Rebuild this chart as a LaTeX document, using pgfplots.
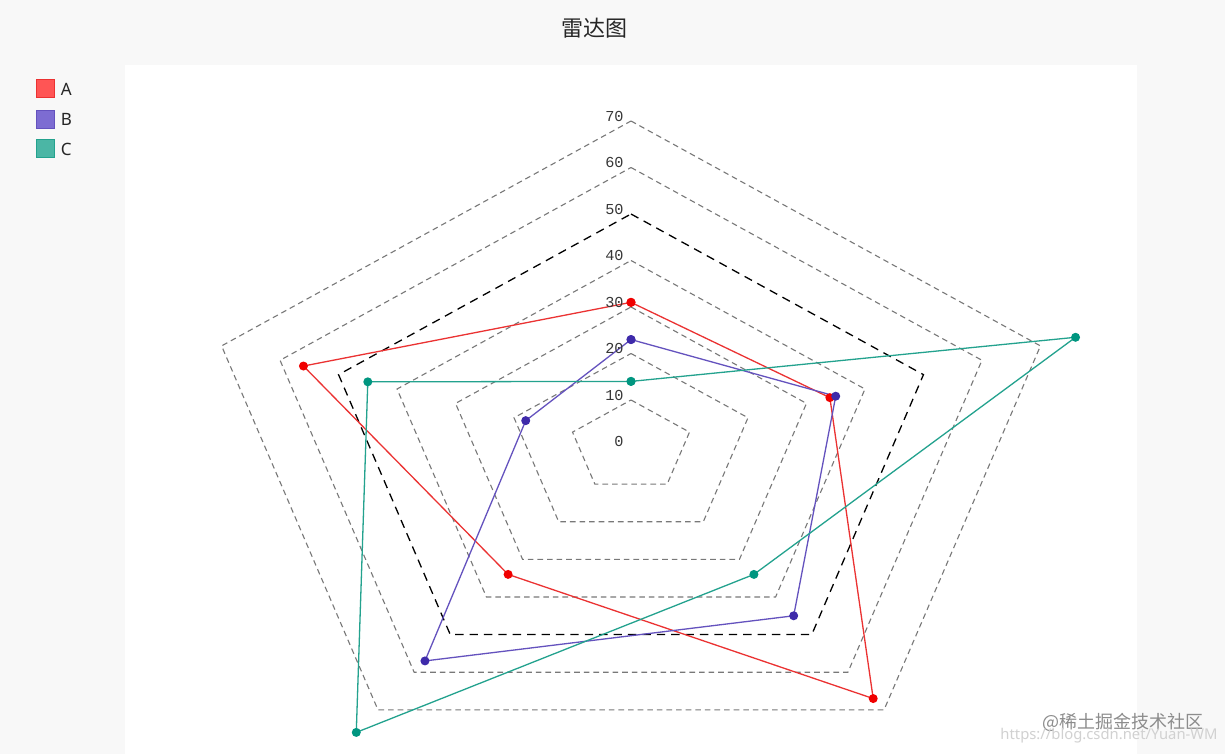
\documentclass[border=0pt]{standalone}
\usepackage{pgfplots}
\pgfplotsset{compat=1.18}
\usepackage{fontspec}
\setmainfont{Noto Sans}
\setmonofont{Liberation Mono}
\newfontfamily\cjk{Noto Sans CJK SC}

\definecolor{bgcol}{RGB}{248,248,248}
\definecolor{gridcol}{RGB}{120,120,120}
\definecolor{labcol}{RGB}{55,55,55}
\definecolor{lineA}{RGB}{235,50,50}
\definecolor{markA}{RGB}{240,0,0}
\definecolor{lineB}{RGB}{100,82,190}
\definecolor{markB}{RGB}{62,42,170}
\definecolor{lineC}{RGB}{35,162,142}
\definecolor{markC}{RGB}{0,150,128}
\definecolor{legA}{RGB}{255,85,85}
\definecolor{legB}{RGB}{125,108,210}
\definecolor{legC}{RGB}{75,182,165}

\begin{document}
\begin{tikzpicture}[x=0.5pt,y=-0.5pt]
% page background and plot panel (1 unit = 1 px of the reference)
\fill[bgcol] (0,0) rectangle (1225,754);
\fill[white] (125,65) rectangle (1137,754);

\node[font=\cjk\fontsize{11}{13}\selectfont, text=black!85] at (594,28) {雷达图};

% legend
\filldraw[fill=legA, draw=lineA, line width=0.5pt] (36,80) rectangle (54,98);
\filldraw[fill=legB, draw=lineB, line width=0.5pt] (36,110.5) rectangle (54,128.5);
\filldraw[fill=legC, draw=lineC, line width=0.5pt] (36,140) rectangle (54,158);
\node[anchor=west, inner sep=0pt, font=\fontsize{8.5}{10}\selectfont, text=black!85] at (60.5,89) {A};
\node[anchor=west, inner sep=0pt, font=\fontsize{8.5}{10}\selectfont, text=black!85] at (60.5,119.5) {B};
\node[anchor=west, inner sep=0pt, font=\fontsize{8.5}{10}\selectfont, text=black!85] at (60.5,149) {C};

\begin{axis}[
    at={(315.5pt,-223.25pt)}, anchor=center,
    scale only axis,
    width=492pt, height=372pt,
    xmin=-80, xmax=80, ymin=-80, ymax=80,
    hide axis, clip=false,
    ring/.style={gridcol, line width=0.55pt, dash pattern=on 2.8pt off 2pt, line join=miter, data cs=polar},
    series/.style={line width=0.65pt, mark=*, mark size=1.9pt, data cs=polar},
]
% grid rings
\addplot[ring] coordinates {(90,10)(18,10)(-54,10)(234,10)(162,10)(90,10)};
\addplot[ring] coordinates {(90,20)(18,20)(-54,20)(234,20)(162,20)(90,20)};
\addplot[ring] coordinates {(90,30)(18,30)(-54,30)(234,30)(162,30)(90,30)};
\addplot[ring] coordinates {(90,40)(18,40)(-54,40)(234,40)(162,40)(90,40)};
\addplot[ring, black, line width=0.65pt, dash pattern=on 4.2pt off 3pt] coordinates {(90,50)(18,50)(-54,50)(234,50)(162,50)(90,50)};
\addplot[ring] coordinates {(90,60)(18,60)(-54,60)(234,60)(162,60)(90,60)};
\addplot[ring] coordinates {(90,70)(18,70)(-54,70)(234,70)(162,70)(90,70)};

% series
\addplot[series, lineA, mark options={fill=markA, draw=markA}] coordinates {(90,31)(18,34)(-54,67)(234,34)(162,56)(90,31)};
\addplot[series, lineB, mark options={fill=markB, draw=markB}] coordinates {(90,23)(18,35)(-54,45)(234,57)(162,18)(90,23)};
\addplot[series, lineC, mark options={fill=markC, draw=markC}] coordinates {(90,14)(18,76)(-54,34)(234,76)(162,45)(90,14)};

% radial labels
\begin{scope}[every node/.style={anchor=east, inner sep=0pt, xshift=-3.5pt, yshift=2.3pt, text=labcol, font=\ttfamily\fontsize{7.6}{9}\selectfont}]
\node at (axis cs:0,0) {0};
\node at (axis cs:0,10) {10};
\node at (axis cs:0,20) {20};
\node at (axis cs:0,30) {30};
\node at (axis cs:0,40) {40};
\node at (axis cs:0,50) {50};
\node at (axis cs:0,60) {60};
\node at (axis cs:0,70) {70};
\end{scope}
\end{axis}

% watermark
\node[anchor=east, inner sep=0pt, font=\cjk\fontsize{9}{10}\selectfont, text=black!45] at (1204,722) {@稀土掘金技术社区};
\node[anchor=east, inner sep=0pt, font=\fontsize{7.4}{9}\selectfont, text=black!18] at (1218,736) {https://blog.csdn.net/Yuan-WM};

\pgfresetboundingbox
\path[use as bounding box] (0,0) rectangle (1225,754);
\end{tikzpicture}
\end{document}
